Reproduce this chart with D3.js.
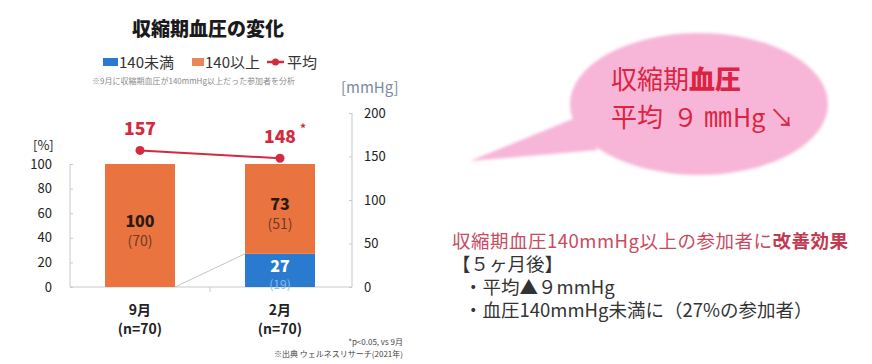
<!DOCTYPE html>
<html lang="ja">
<head>
<meta charset="utf-8">
<script src="https://cdn.jsdelivr.net/npm/d3@7"></script>
<style>
  html, body { margin: 0; padding: 0; background: #fff; }
  svg { display: block; font-family: "Noto Sans CJK JP", "Noto Sans", sans-serif; }
</style>
</head>
<body>
<svg id="chart" width="872" height="364"></svg>
<script>
// ---- data ----
const categories = ["9月", "2月"];
const sampleLabels = ["(n=70)", "(n=70)"];
const pctUnder140 = [0, 27];      // % of participants under 140 mmHg
const pctOver140 = [100, 73];     // % of participants at/over 140 mmHg
const cntUnder140 = [0, 19];      // participant counts
const cntOver140 = [70, 51];
const avgSystolic = [157, 148];   // mean systolic BP, mmHg
const avgMarks = ["", "*"];
const leftTicks = [0, 20, 40, 60, 80, 100];
const rightTicks = [0, 50, 100, 150, 200];

const svg = d3.select("#chart");

// ---- palette ----
const C = {
  blue: "#2a7bd0", orange: "#ea7440", legendOrange: "#e8875a",
  red: "#d42a40", axis: "#c9c9c9", text: "#222", pinkText: "#c94a5e"
};

// ---- scales ----
const x = d3.scaleBand().domain(categories).range([70, 350])
  .paddingInner(0.5).paddingOuter(0.25);
const yL = d3.scaleLinear().domain([0, 100]).range([287, 164]);
const yR = d3.scaleLinear().domain([0, 200]).range([287, 113]);
const cx = c => x(c) + x.bandwidth() / 2;

// ---- title ----
svg.append("text").attr("x", 208).attr("y", 36).attr("text-anchor", "middle")
  .attr("font-size", 19).attr("font-weight", 900).attr("fill", "#1a1a1a")
  .text("収縮期血圧の変化");

// ---- legend ----
const lg = svg.append("g").attr("font-size", 15).attr("fill", "#333");
lg.append("rect").attr("x", 103).attr("y", 58).attr("width", 15).attr("height", 8).attr("fill", C.blue);
lg.append("text").attr("x", 119).attr("y", 68).text("140未満");
lg.append("rect").attr("x", 192).attr("y", 58).attr("width", 12).attr("height", 8).attr("fill", C.legendOrange);
lg.append("text").attr("x", 205).attr("y", 68).text("140以上");
lg.append("line").attr("x1", 267).attr("x2", 284).attr("y1", 62).attr("y2", 62)
  .attr("stroke", C.red).attr("stroke-width", 2.5);
lg.append("circle").attr("cx", 275.5).attr("cy", 62).attr("r", 3.5).attr("fill", C.red);
lg.append("text").attr("x", 287).attr("y", 68).text("平均");

svg.append("text").attr("x", 92).attr("y", 84).attr("font-size", 8).attr("fill", "#8a8a8a")
  .text("※9月に収縮期血圧が140mmHg以上だった参加者を分析");

// ---- axes ----
const axisG = svg.append("g").attr("stroke", C.axis).attr("stroke-width", 1).attr("fill", "none");
axisG.append("line").attr("x1", 70).attr("x2", 70).attr("y1", yL(100)).attr("y2", yL(0));
axisG.append("line").attr("x1", 70).attr("x2", 352).attr("y1", 287).attr("y2", 287);
axisG.append("line").attr("x1", 352).attr("x2", 352).attr("y1", yR(200)).attr("y2", yR(0));
axisG.append("line").attr("x1", 210).attr("x2", 210).attr("y1", 287).attr("y2", 292);

const leftAxis = d3.axisLeft(yL).tickValues(leftTicks).tickSize(-3).tickPadding(18);
const gl = svg.append("g").attr("transform", "translate(70,0)").call(leftAxis);
gl.select(".domain").remove();
gl.selectAll(".tick line").attr("stroke", C.axis);
gl.selectAll(".tick text").attr("font-size", 13).attr("fill", C.text)
  .attr("font-family", "'Noto Sans CJK JP', sans-serif");

const rightAxis = d3.axisRight(yR).tickValues(rightTicks).tickSize(-3).tickPadding(12);
const gr = svg.append("g").attr("transform", "translate(352,0)").call(rightAxis);
gr.select(".domain").remove();
gr.selectAll(".tick line").attr("stroke", C.axis);
gr.selectAll(".tick text").attr("font-size", 13).attr("fill", C.text)
  .attr("font-family", "'Noto Sans CJK JP', sans-serif");

svg.append("text").attr("x", 33).attr("y", 150).attr("font-size", 13).attr("fill", C.text).text("[%]");
svg.append("text").attr("x", 341).attr("y", 93).attr("font-size", 15).attr("fill", "#7a8aa0").text("[mmHg]");

// ---- series line connecting the 140未満 segments ----
svg.append("line")
  .attr("x1", x(categories[0]) + x.bandwidth()).attr("y1", yL(pctUnder140[0]))
  .attr("x2", x(categories[1])).attr("y2", yL(pctUnder140[1]))
  .attr("stroke", "#c4c4c4").attr("stroke-width", 1);

// ---- stacked bars ----
const bars = svg.append("g");
categories.forEach((c, i) => {
  if (pctUnder140[i] > 0) {
    bars.append("rect").attr("x", x(c)).attr("width", x.bandwidth())
      .attr("y", yL(pctUnder140[i])).attr("height", yL(0) - yL(pctUnder140[i]))
      .attr("fill", C.blue);
  }
  bars.append("rect").attr("x", x(c)).attr("width", x.bandwidth())
    .attr("y", yL(pctUnder140[i] + pctOver140[i]))
    .attr("height", yL(pctUnder140[i]) - yL(pctUnder140[i] + pctOver140[i]))
    .attr("fill", C.orange);
});

// bar labels
const lab = svg.append("g").attr("text-anchor", "middle");
categories.forEach((c, i) => {
  const midO = yL(pctUnder140[i] + pctOver140[i] / 2);
  lab.append("text").attr("x", cx(c)).attr("y", midO + 1).attr("font-size", 16)
    .attr("font-weight", 900).attr("fill", "#2a1a14").text(pctOver140[i]);
  lab.append("text").attr("x", cx(c)).attr("y", midO + 20).attr("font-size", 14)
    .attr("fill", "#6e3a26").text(`(${cntOver140[i]})`);
  if (pctUnder140[i] > 0) {
    const top = yL(pctUnder140[i]);
    lab.append("text").attr("x", cx(c)).attr("y", top + 18).attr("font-size", 16)
      .attr("font-weight", 900).attr("fill", "#fff").text(pctUnder140[i]);
    lab.append("text").attr("x", cx(c)).attr("y", top + 35).attr("font-size", 12)
      .attr("fill", "#8fbbe8").text(`(${cntUnder140[i]})`);
  }
});

// ---- average line ----
const line = d3.line().x((d, i) => cx(categories[i])).y(d => yR(d));
svg.append("path").datum(avgSystolic).attr("d", line)
  .attr("fill", "none").attr("stroke", C.red).attr("stroke-width", 2);
svg.selectAll(".avgpt").data(avgSystolic).join("circle")
  .attr("cx", (d, i) => cx(categories[i])).attr("cy", d => yR(d)).attr("r", 4.5).attr("fill", C.red);
svg.selectAll(".avglab").data(avgSystolic).join("text")
  .attr("x", (d, i) => cx(categories[i])).attr("y", d => yR(d) - 15)
  .attr("text-anchor", "middle").attr("font-size", 17.5).attr("font-weight", 900)
  .attr("fill", C.red).text(d => d);
avgSystolic.forEach((d, i) => {
  if (avgMarks[i]) svg.append("text").attr("x", cx(categories[i]) + 20).attr("y", yR(d) - 25)
    .attr("font-size", 12).attr("font-weight", 700).attr("fill", C.red).text(avgMarks[i]);
});

// ---- category labels ----
categories.forEach((c, i) => {
  svg.append("text").attr("x", cx(c)).attr("y", 315).attr("text-anchor", "middle")
    .attr("font-size", 14).attr("font-weight", 700).attr("fill", C.text).text(c);
  svg.append("text").attr("x", cx(c)).attr("y", 334).attr("text-anchor", "middle")
    .attr("font-size", 14).attr("font-weight", 700).attr("fill", C.text).text(sampleLabels[i]);
});

svg.append("text").attr("x", 403).attr("y", 345).attr("text-anchor", "end")
  .attr("font-size", 8).attr("fill", "#444").text("*p<0.05, vs 9月");
svg.append("text").attr("x", 403).attr("y", 357).attr("text-anchor", "end")
  .attr("font-size", 8).attr("fill", "#444").text("※出典 ウェルネスリサーチ(2021年)");

// ---- speech bubble ----
const defs = svg.append("defs");
defs.append("filter").attr("id", "soft").append("feGaussianBlur").attr("stdDeviation", 1.5);
const bubble = svg.append("g").attr("filter", "url(#soft)").attr("fill", "#f7b6d8");
bubble.append("ellipse").attr("cx", 699).attr("cy", 104).attr("rx", 129).attr("ry", 71);
bubble.append("path").attr("d", "M470,161 L575,118 L598,150 Z");

const bt = svg.append("g").attr("fill", "#dc2442").attr("font-size", 25);
const b1 = bt.append("text").attr("x", 611).attr("y", 89);
b1.append("tspan").attr("font-size", 26).text("収縮期");
b1.append("tspan").attr("font-size", 26).attr("font-weight", 900).text("血圧");
const b2 = bt.append("text").attr("x", 611).attr("y", 127);
b2.append("tspan").attr("font-size", 26).text("平均");
b2.append("tspan").attr("dx", 10).text("９");
b2.append("tspan").attr("dx", 6).attr("font-size", 28).text("㎜");
b2.append("tspan").attr("dx", 1).text("Hg");
b2.append("tspan").attr("dx", 4).text("↘");

// ---- summary text ----
const st = svg.append("g").attr("font-size", 18.5);
const s1 = st.append("text").attr("x", 452).attr("y", 248).attr("fill", C.pinkText)
  .attr("textLength", 396).attr("lengthAdjust", "spacing");
s1.append("tspan").text("収縮期血圧140mmHg以上の参加者に");
s1.append("tspan").attr("font-weight", 700).attr("fill", "#c03a52").text("改善効果");
st.append("text").attr("x", 452).attr("y", 271).attr("fill", "#333").text("【５ヶ月後】");
st.append("text").attr("x", 464).attr("y", 294).attr("fill", "#333").text("・平均▲９mmHg");
st.append("text").attr("x", 464).attr("y", 317).attr("fill", "#333").text("・血圧140mmHg未満に（27%の参加者）");
</script>
</body>
</html>
